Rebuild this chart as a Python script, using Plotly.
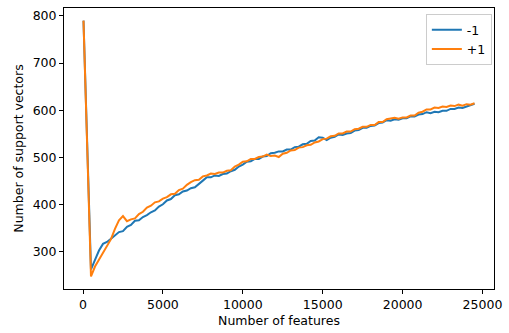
import plotly.graph_objects as go

# Number of features (sampling grid)
features = [30] + list(range(500, 24501, 250))

# Number of support vectors, class -1
sv_neg = [790,
    263, 283, 303, 317, 321, 328, 335, 342, 344, 353, 357, 366, 367, 374, 378, 384,
    388, 396, 401, 409, 412, 420, 422, 428, 430, 435, 437, 445, 451, 458, 458, 462,
    461, 465, 466, 471, 474, 481, 485, 491, 492, 497, 497, 502, 503, 509, 510, 513,
    513, 517, 517, 522, 523, 528, 529, 535, 536, 543, 542, 537, 542, 544, 549, 548,
    551, 552, 557, 558, 563, 563, 567, 568, 573, 574, 579, 578, 581, 580, 583, 583,
    587, 587, 591, 592, 596, 594, 597, 596, 599, 599, 603, 603, 606, 605, 608, 610,
    614]

# Number of support vectors, class +1
sv_pos = [790,
    248, 269, 283, 300, 311, 327, 349, 367, 376, 365, 369, 371, 380, 385, 394, 398,
    405, 407, 413, 416, 422, 423, 431, 434, 442, 448, 452, 453, 460, 462, 466, 465,
    468, 468, 472, 473, 481, 485, 491, 492, 497, 497, 501, 502, 506, 503, 504, 501,
    508, 510, 515, 516, 521, 522, 526, 527, 532, 534, 539, 540, 545, 546, 551, 551,
    555, 555, 560, 561, 565, 565, 569, 569, 575, 575, 581, 582, 584, 582, 585, 585,
    589, 589, 595, 597, 602, 602, 606, 605, 608, 607, 610, 609, 612, 610, 613, 612,
    615]

x_ticks = [0, 5000, 10000, 15000, 20000, 25000]
y_ticks = [300, 400, 500, 600, 700, 800]

fig = go.Figure()
fig.add_trace(go.Scatter(x=features, y=sv_neg, mode="lines", name="-1",
                         line=dict(color="#1f77b4", width=2)))
fig.add_trace(go.Scatter(x=features, y=sv_pos, mode="lines", name="+1",
                         line=dict(color="#ff7f0e", width=2)))

axis_common = dict(showline=True, linecolor="#000000", linewidth=1, mirror=True,
                   ticks="outside", ticklen=4, tickcolor="#000000", tickwidth=1,
                   showgrid=False, zeroline=False,
                   tickfont=dict(family="DejaVu Sans", size=12.5, color="#000000"))

fig.update_layout(
    width=509, height=333,
    margin=dict(l=64, r=9, t=7, b=42),
    plot_bgcolor="white", paper_bgcolor="white",
    font=dict(family="DejaVu Sans", size=12.5, color="#000000"),
    xaxis=dict(range=[-1190, 25720], tickvals=x_ticks, tickformat="d",
               title=dict(text="Number of features", standoff=5,
                          font=dict(family="DejaVu Sans", size=12.5)), **axis_common),
    yaxis=dict(range=[221.4, 816.8], tickvals=y_ticks, tickformat="d",
               title=dict(text="Number of support vectors", standoff=6,
                          font=dict(family="DejaVu Sans", size=12.5)), **axis_common),
    legend=dict(x=0.995, y=0.978, xanchor="right", yanchor="top",
                bgcolor="rgba(255,255,255,0.8)", bordercolor="#cccccc", borderwidth=1,
                font=dict(family="DejaVu Sans", size=12.5), tracegroupgap=0,
                itemwidth=30),
    showlegend=True,
)

fig.write_html("out.html", config={"displayModeBar": False},
               post_script="document.body.style.margin='0';")
